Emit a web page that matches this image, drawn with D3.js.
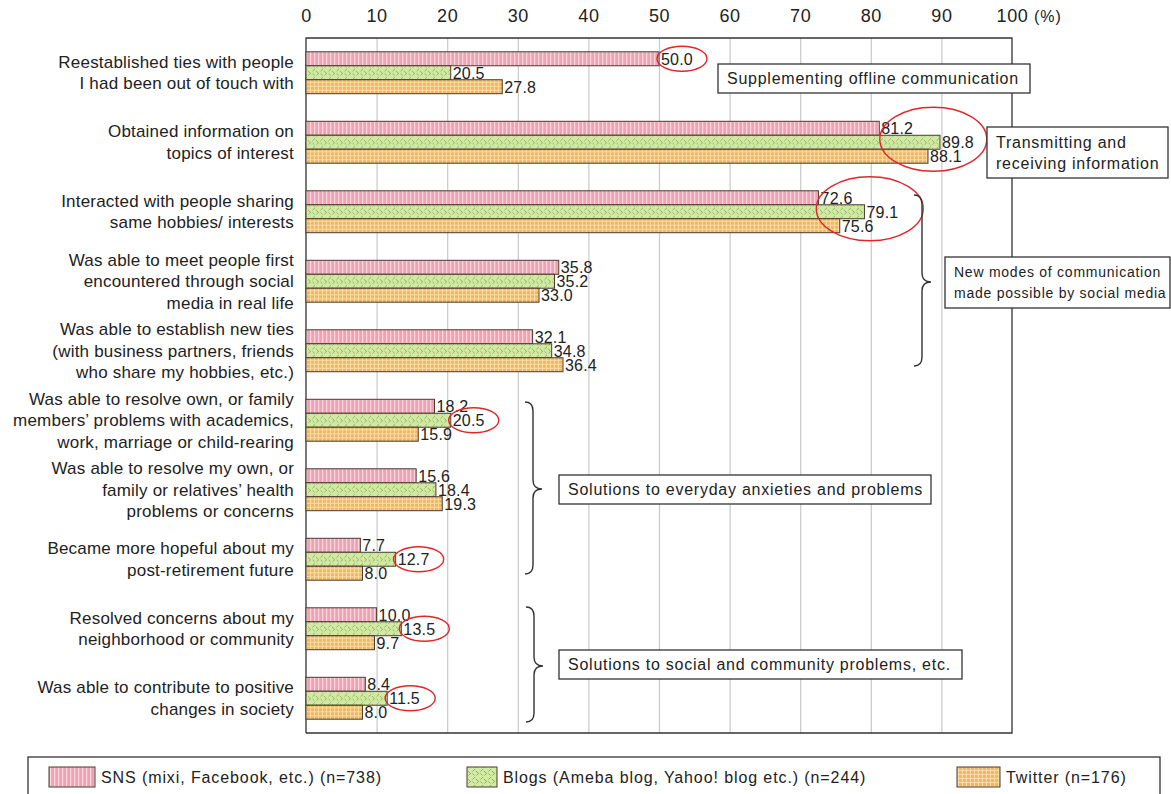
<!DOCTYPE html>
<html>
<head>
<meta charset="utf-8">
<script src="https://cdn.jsdelivr.net/npm/d3@7"></script>
<style>
  body, html { margin:0; padding:0; background:#fff; font-family:"Liberation Sans", Arial, sans-serif; }
  svg text { fill:#222; }
</style>
</head>
<body>
<svg id="chart" width="1171" height="794"></svg>
<script>
// data
var categories = [
  ["Reestablished ties with people", "I had been out of touch with"],
  ["Obtained information on", "topics of interest"],
  ["Interacted with people sharing", "same hobbies/ interests"],
  ["Was able to meet people first", "encountered through social", "media in real life"],
  ["Was able to establish new ties", "(with business partners, friends", "who share my hobbies, etc.)"],
  ["Was able to resolve own, or family", "members\u2019 problems with academics,", "work, marriage or child-rearing"],
  ["Was able to resolve my own, or", "family or relatives\u2019 health", "problems or concerns"],
  ["Became more hopeful about my", "post-retirement future"],
  ["Resolved concerns about my", "neighborhood or community"],
  ["Was able to contribute to positive", "changes in society"]
];
var seriesNames = ["SNS (mixi, Facebook, etc.) (n=738)", "Blogs (Ameba blog, Yahoo! blog etc.) (n=244)", "Twitter (n=176)"];
var sns     = [50.0, 81.2, 72.6, 35.8, 32.1, 18.2, 15.6, 7.7, 10.0, 8.4];
var blogs   = [20.5, 89.8, 79.1, 35.2, 34.8, 20.5, 18.4, 12.7, 13.5, 11.5];
var twitter = [27.8, 88.1, 75.6, 33.0, 36.4, 15.9, 19.3, 8.0, 9.7, 8.0];
var ticks = [0, 10, 20, 30, 40, 50, 60, 70, 80, 90, 100];

var series = [sns, blogs, twitter];
var keys = ["sns", "blogs", "twitter"];

var svg = d3.select("#chart");
var plotL = 306, plotR = 1012, plotT = 38, plotB = 733;

var x = d3.scaleLinear().domain([0, 100]).range([plotL, plotR]);
var y = d3.scaleBand().domain(d3.range(categories.length)).range([plotT, plotB])
          .paddingInner(0.397).paddingOuter(0.1985);
var ys = d3.scaleBand().domain(d3.range(3)).range([0, y.bandwidth()]);

// patterns
var defs = svg.append("defs");
var p1 = defs.append("pattern").attr("id", "sns").attr("patternUnits", "userSpaceOnUse")
  .attr("width", 4).attr("height", 4);
p1.append("rect").attr("width", 4).attr("height", 4).attr("fill", "#f4a0b3");
p1.append("rect").attr("x", 2).attr("width", 1.2).attr("height", 4).attr("fill", "#fbd7df");

var p2 = defs.append("pattern").attr("id", "blogs").attr("patternUnits", "userSpaceOnUse")
  .attr("width", 8).attr("height", 8);
p2.append("rect").attr("width", 8).attr("height", 8).attr("fill", "#d3e8a6");
p2.append("path").attr("d", "M0.5,3.5 L3,1 M4.5,7.5 L7,5 M4,3 L6,5 M0.5,5.5 L2.5,7.5")
  .attr("stroke", "#88b850").attr("stroke-width", 1).attr("fill", "none");

var p3 = defs.append("pattern").attr("id", "twitter").attr("patternUnits", "userSpaceOnUse")
  .attr("width", 4).attr("height", 4);
p3.append("rect").attr("width", 4).attr("height", 4).attr("fill", "#f3b65a");
p3.append("rect").attr("x", 2).attr("width", 1).attr("height", 4).attr("fill", "#fbdba7");
p3.append("rect").attr("y", 2).attr("width", 4).attr("height", 1).attr("fill", "#fbdba7");

// gridlines
svg.append("g")
  .attr("transform", "translate(0," + plotT + ")")
  .call(d3.axisTop(x).tickValues(ticks.slice(1, -1)).tickSize(-(plotB - plotT)).tickFormat(""))
  .call(function(g){ g.select(".domain").remove(); })
  .selectAll("line").attr("stroke", "#c9c9c9").attr("stroke-width", 1.2);

// tick labels
var ax = svg.append("g")
  .attr("transform", "translate(0," + plotT + ")")
  .call(d3.axisTop(x).tickValues(ticks).tickSize(0).tickPadding(16).tickFormat(d3.format("d")));
ax.select(".domain").remove();
ax.selectAll("text").attr("font-size", 18).attr("letter-spacing", 0.6)
  .attr("font-family", "Liberation Sans, Arial, sans-serif").attr("fill", "#222");
svg.append("text").attr("x", x(100) + 22).attr("y", 22).attr("font-size", 16)
  .attr("letter-spacing", 1).text("(%)");

// frame
svg.append("path")
  .attr("d", "M" + plotL + "," + plotB + "V" + plotT + "H" + plotR + "V" + plotB + "H" + plotL)
  .attr("fill", "none").attr("stroke", "#333").attr("stroke-width", 1.3);

// bars
var groups = svg.append("g").selectAll("g").data(categories).join("g")
  .attr("transform", function(d, i){ return "translate(0," + y(i) + ")"; });

series.forEach(function(vals, s){
  groups.append("rect")
    .attr("x", x(0))
    .attr("y", ys(s))
    .attr("width", function(d, i){ return x(vals[i]) - x(0); })
    .attr("height", ys.bandwidth())
    .attr("fill", "url(#" + keys[s] + ")")
    .attr("stroke", "#4a3a30").attr("stroke-width", 1);
  groups.append("text")
    .attr("x", function(d, i){ return x(vals[i]) + 2; })
    .attr("y", ys(s) + ys.bandwidth() / 2 + 6)
    .attr("font-size", 16).attr("letter-spacing", 0.2)
    .text(function(d, i){ return vals[i].toFixed(1); });
});

// category labels
groups.each(function(d, i){
  var n = d.length;
  var t = d3.select(this).append("text").attr("text-anchor", "end")
    .attr("font-size", 17).attr("letter-spacing", 0.2);
  d.forEach(function(line, k){
    t.append("tspan").attr("x", 294)
      .attr("y", y.bandwidth() / 2 + (k - (n - 1) / 2) * 21.5 + 6)
      .text(line);
  });
});

// red highlight ellipses
var marks = [[0, 0], [5, 1], [7, 1], [8, 1], [9, 1]];
marks.forEach(function(m){
  var v = series[m[1]][m[0]];
  svg.append("ellipse")
    .attr("cx", x(v) + 23)
    .attr("cy", y(m[0]) + ys(m[1]) + ys.bandwidth() / 2)
    .attr("rx", 25).attr("ry", 12.5)
    .attr("fill", "none").attr("stroke", "#e0262b").attr("stroke-width", 1.4);
});
[[1, 88], [2, 79]].forEach(function(m){
  svg.append("ellipse")
    .attr("cx", x(m[1]) + 6)
    .attr("cy", y(m[0]) + y.bandwidth() / 2 - 3)
    .attr("rx", 53.5).attr("ry", 32)
    .attr("fill", "none").attr("stroke", "#e0262b").attr("stroke-width", 1.4);
});

// braces
function brace(x0, y0, y1, ym) {
  var w = 8, r = 9;
  return "M" + x0 + "," + y0 +
    " Q" + (x0 + w) + "," + y0 + " " + (x0 + w) + "," + (y0 + r) +
    " V" + (ym - r) +
    " Q" + (x0 + w) + "," + ym + " " + (x0 + w + 9) + "," + ym +
    " Q" + (x0 + w) + "," + ym + " " + (x0 + w) + "," + (ym + r) +
    " V" + (y1 - r) +
    " Q" + (x0 + w) + "," + y1 + " " + x0 + "," + y1;
}
svg.append("path").attr("d", brace(914, 195, 366, 282)).attr("fill", "none").attr("stroke", "#333").attr("stroke-width", 1.4);
svg.append("path").attr("d", brace(525, 402, 574, 489)).attr("fill", "none").attr("stroke", "#333").attr("stroke-width", 1.4);
svg.append("path").attr("d", brace(526, 607, 722, 666)).attr("fill", "none").attr("stroke", "#333").attr("stroke-width", 1.4);

// annotation boxes
function box(x0, y0, w, h, lines, fs, lh, ls) {
  svg.append("rect").attr("x", x0).attr("y", y0).attr("width", w).attr("height", h)
    .attr("fill", "#fff").attr("stroke", "#333").attr("stroke-width", 1.3);
  var t = svg.append("text").attr("font-size", fs).attr("letter-spacing", ls);
  lines.forEach(function(l, k){
    t.append("tspan").attr("x", x0 + 9)
      .attr("y", y0 + h / 2 + (k - (lines.length - 1) / 2) * lh + fs * 0.36)
      .text(l);
  });
}
box(718, 64, 312, 29, ["Supplementing offline communication"], 16, 20, 0.75);
box(987, 127, 181, 51, ["Transmitting and", "receiving information"], 16, 21, 0.75);
box(945, 257, 225, 51, ["New modes of communication", "made possible by social media"], 14, 21, 0.75);
box(559, 475, 372, 29, ["Solutions to everyday anxieties and problems"], 16, 20, 0.75);
box(559, 650, 403, 29, ["Solutions to social and community problems, etc."], 16, 20, 0.75);

// legend
svg.append("rect").attr("x", 28).attr("y", 757).attr("width", 1132).attr("height", 45)
  .attr("fill", "#fff").attr("stroke", "#333").attr("stroke-width", 1.3);
var legendX = [49, 467, 957];
var swatchW = [46, 30, 43];
seriesNames.forEach(function(name, s){
  svg.append("rect").attr("x", legendX[s]).attr("y", 767).attr("width", swatchW[s]).attr("height", 20)
    .attr("fill", "url(#" + keys[s] + ")").attr("stroke", "#4a3a30").attr("stroke-width", 1);
  svg.append("text").attr("x", legendX[s] + swatchW[s] + 6).attr("y", 783)
    .attr("font-size", 16).attr("letter-spacing", 0.9).text(name);
});
</script>
</body>
</html>
